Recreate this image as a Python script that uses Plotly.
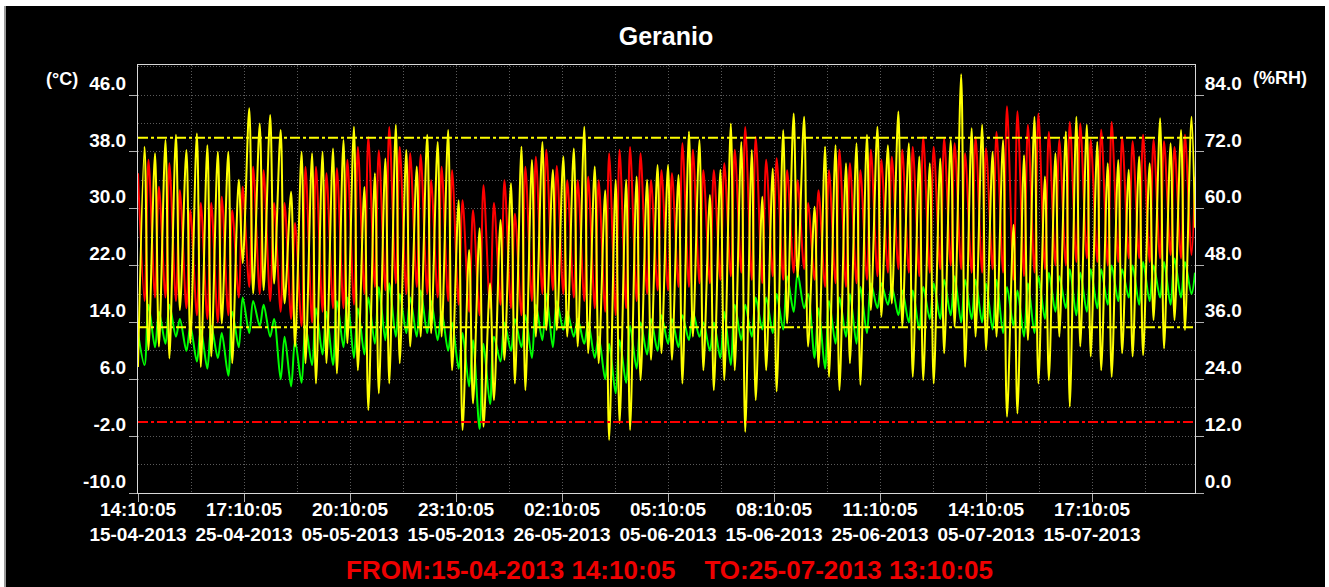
import plotly.graph_objects as go
from datetime import datetime, timedelta

# ---------------- data ----------------
START = "2013-04-15 14:10:05"
END = "2013-07-25 13:10:05"

TICK_TIMES = ["2013-04-15 14:10:05", "2013-04-25 17:10:05", "2013-05-05 20:10:05",
              "2013-05-15 23:10:05", "2013-05-26 02:10:05", "2013-06-05 05:10:05",
              "2013-06-15 08:10:05", "2013-06-25 11:10:05", "2013-07-05 14:10:05",
              "2013-07-15 17:10:05"]

TEMP_TICKS = [-10, -2, 6, 14, 22, 30, 38, 46]
TEMP_TICK_LABELS = ["-10.0", "-2.0", "6.0", "14.0", "22.0", "30.0", "38.0", "46.0"]
RH_TICKS = [0, 12, 24, 36, 48, 60, 72, 84]
RH_TICK_LABELS = ["0.0", "12.0", "24.0", "36.0", "48.0", "60.0", "72.0", "84.0"]

# daily afternoon maxima (day 0..100, then final sample) in degC
RED_MAX = [35.0, 36.9, 33.1, 36.4, 32.6, 29.8, 30.8, 30.8, 31.7, 29.8, 33.1, 35.9, 35.4, 30.8, 30.8, 28.0, 35.9, 35.9, 35.0, 35.7,
           36.9, 38.7, 40.1, 38.2, 41.5, 38.7, 37.8, 37.6, 34.0, 35.9, 35.4, 31.2, 29.8, 33.3, 30.8, 34.0, 29.3, 35.9, 37.3, 38.3,
           36.0, 34.0, 34.0, 34.5, 34.0, 37.8, 38.3, 38.7, 37.8, 34.0, 35.4, 35.0, 39.2, 38.3, 35.4, 35.4, 36.4, 38.3, 41.5, 40.1,
           36.9, 37.1, 35.4, 34.0, 30.8, 32.6, 35.4, 38.3, 36.4, 35.4, 38.3, 36.9, 37.3, 38.3, 38.7, 40.1, 38.7, 39.9, 39.2, 37.8,
           40.1, 38.5, 40.8, 44.4, 43.7, 41.8, 43.4, 40.8, 39.7, 42.2, 42.0, 39.7, 41.1, 42.2, 40.1, 39.5, 40.4, 39.7, 39.5, 38.7, 40.4,
           34.5]
# daily early-morning minima (day 0..100) in degC
RED_MIN = [17.0, 17.5, 17.5, 17.0, 16.0, 15.0, 14.5, 14.0, 15.0, 17.5, 19.0, 18.0, 17.0, 15.5, 14.5, 13.5, 14.0, 15.5, 16.0, 16.0,
           16.5, 18.0, 19.0, 18.5, 19.5, 18.0, 19.0, 18.0, 17.5, 17.0, 16.5, 15.5, 15.0, 16.0, 16.5, 16.0, 15.0, 17.0, 18.0, 18.5,
           18.0, 17.5, 17.0, 16.0, 15.5, 15.0, 16.0, 17.0, 18.0, 18.5, 18.5, 19.0, 19.0, 19.5, 19.5, 20.0, 20.5, 21.0, 20.0, 19.5,
           20.5, 20.0, 21.0, 21.5, 20.0, 19.0, 19.5, 19.0, 19.5, 20.0, 20.5, 21.0, 21.5, 21.0, 20.5, 21.0, 21.5, 22.0, 21.5, 21.0,
           21.0, 21.5, 21.0, 20.0, 20.5, 21.0, 21.5, 22.0, 22.0, 22.5, 23.0, 22.5, 22.0, 22.5, 23.0, 23.0, 22.5, 23.0, 23.5, 23.0, 23.5]

GREEN_MAX = [12.5, 16.5, 15.5, 16.5, 14.5, 13.5, 13.0, 13.5, 12.5, 15.5, 17.5, 17.0, 16.5, 14.5, 12.0, 11.5, 13.5, 16.0, 15.5, 17.0,
             17.5, 16.0, 17.5, 19.0, 19.5, 18.0, 17.5, 18.5, 17.0, 15.5, 14.0, 12.5, 11.5, 11.0, 12.0, 14.0, 14.5, 15.0, 16.5, 18.0,
             17.0, 15.5, 14.5, 14.0, 12.0, 11.0, 11.5, 13.5, 14.0, 14.5, 15.0, 14.5, 15.0, 15.5, 14.0, 14.0, 15.5, 16.5, 16.5, 17.5,
             17.5, 18.0, 20.5, 21.0, 18.0, 16.0, 17.0, 17.5, 18.0, 19.0, 19.5, 19.5, 19.0, 18.5, 18.5, 19.0, 19.5, 20.0, 20.5, 20.0,
             20.0, 19.5, 20.0, 19.0, 18.5, 19.5, 20.5, 21.0, 20.5, 21.5, 21.0, 21.5, 21.5, 22.0, 21.5, 22.0, 22.5, 22.0, 22.5, 23.0, 22.5,
             21.0]
GREEN_MIN = [8.0, 10.5, 11.0, 12.0, 10.0, 8.5, 7.5, 9.0, 6.5, 10.5, 12.5, 13.5, 12.0, 6.0, 5.0, 5.5, 8.0, 9.5, 8.0, 10.5,
             9.0, 9.5, 11.0, 11.5, 12.0, 12.5, 12.0, 12.5, 11.5, 10.0, 7.5, 5.0, -1.0, 2.5, 8.5, 10.0, 10.5, 9.0, 11.5, 10.5,
             13.0, 12.0, 11.0, 9.0, 6.0, 4.0, 5.5, 7.5, 9.5, 10.0, 11.0, 10.5, 11.5, 12.0, 10.0, 9.0, 8.0, 11.5, 12.0, 13.0,
             12.5, 13.0, 15.5, 16.0, 9.0, 7.5, 11.0, 12.0, 11.0, 12.5, 16.0, 16.5, 15.0, 14.0, 13.0, 14.5, 14.5, 15.0, 14.0, 14.5,
             14.0, 13.0, 12.5, 13.5, 12.0, 12.5, 14.5, 15.5, 16.0, 15.0, 15.5, 16.0, 16.5, 17.0, 17.5, 16.5, 17.0, 17.5, 16.5, 17.5, 18.0]

# relative humidity: afternoon minima (day 0..100 + final sample) and night maxima (day 0..100)
RH_MIN = [26.6, 30.2, 30.9, 28.4, 38.6, 31.6, 26.6, 28.8, 35.8, 27.4, 48.5, 42.1, 42.8, 44.2, 40.0, 30.9, 27.4, 23.1, 27.4, 25.2,
          31.6, 25.9, 17.5, 21.0, 23.1, 27.4, 30.9, 33.0, 33.7, 33.0, 25.9, 13.3, 18.9, 14.0, 19.6, 28.1, 23.1, 21.7, 33.0, 34.4,
          34.4, 33.0, 30.9, 29.5, 27.4, 11.2, 14.7, 13.3, 23.8, 28.1, 29.5, 28.1, 23.1, 33.0, 25.9, 21.7, 23.8, 25.9, 12.9, 19.6,
          25.9, 21.4, 35.8, 45.6, 30.9, 26.6, 24.5, 21.7, 27.4, 22.8, 38.6, 37.2, 40.0, 35.1, 24.5, 23.8, 23.1, 29.5, 35.1, 26.6,
          33.0, 30.2, 33.0, 16.1, 16.8, 32.3, 23.1, 23.8, 33.0, 18.2, 30.9, 28.8, 25.9, 24.5, 29.5, 28.8, 29.1, 36.5, 30.5, 36.5, 34.4,
          56.0]
RH_MAX = [73.1, 71.7, 74.5, 75.6, 72.4, 75.9, 73.4, 72.0, 72.0, 66.1, 81.2, 78.0, 79.8, 76.6, 63.6, 72.0, 71.7, 72.0, 72.7, 74.5,
          77.3, 64.6, 67.5, 70.6, 77.7, 72.4, 68.9, 75.6, 74.1, 76.6, 61.8, 51.3, 55.9, 44.2, 57.6, 65.4, 73.1, 70.3, 74.1, 68.2,
          71.0, 72.7, 77.3, 68.9, 63.9, 66.1, 66.1, 66.8, 66.1, 69.2, 69.2, 67.1, 76.3, 74.5, 62.9, 68.2, 78.0, 74.1, 72.4, 62.5,
          68.5, 76.6, 80.1, 79.4, 60.4, 73.1, 73.4, 69.6, 73.8, 75.6, 77.3, 73.4, 80.5, 73.8, 71.0, 69.6, 70.6, 74.5, 88.4, 77.0,
          77.7, 72.0, 74.5, 56.6, 71.3, 79.4, 66.8, 71.7, 76.3, 79.4, 77.7, 74.1, 69.6, 70.3, 68.2, 71.0, 69.6, 79.1, 73.8, 76.6, 79.4]

RH_ALARM_HIGH = 75.0
RH_ALARM_LOW = 35.0
TEMP_ALARM_LOW = 0.0

# ---------------- build time series ----------------
FMT = "%Y-%m-%d %H:%M:%S"
t0 = datetime.strptime(START, FMT)
t_end = datetime.strptime(END, FMT)
n_days = len(RED_MIN)

times = []
for k in range(n_days):
    times.append(t0 + timedelta(days=k))            # afternoon sample
    times.append(t0 + timedelta(days=k, hours=15))  # night sample
times.append(t_end)


def interleave(day_vals, night_vals):
    out = []
    for k in range(n_days):
        out.append(day_vals[k])
        out.append(night_vals[k])
    out.append(day_vals[n_days])
    return out


red = interleave(RED_MAX, RED_MIN)
green = interleave(GREEN_MAX, GREEN_MIN)
yellow = interleave(RH_MIN, RH_MAX)

tick_dt = [datetime.strptime(s, FMT) for s in TICK_TIMES]
tick_text = [d.strftime("%H:%M:%S") + "<br>" + d.strftime("%d-%m-%Y") for d in tick_dt]

FONT = "Liberation Sans, Arial, sans-serif"
GRID = "#5a5a5a"
YTICKFONT = dict(size=19, color="white", family=FONT, weight="bold")
XTICKFONT = dict(size=19, color="white", family=FONT, weight="bold")

fig = go.Figure()
fig.add_trace(go.Scatter(x=times, y=red, mode="lines",
                         line=dict(color="#ff0000", width=2, shape="spline", smoothing=0.9),
                         name="Temp", yaxis="y", showlegend=False))
fig.add_trace(go.Scatter(x=times, y=green, mode="lines",
                         line=dict(color="#00ff00", width=2, shape="spline", smoothing=0.9),
                         name="Temp2", yaxis="y", showlegend=False))
fig.add_trace(go.Scatter(x=times, y=yellow, mode="lines",
                         line=dict(color="#ffff00", width=2, shape="spline", smoothing=0.9),
                         name="RH", yaxis="y2", showlegend=False))

# alarm lines
for yv, col, ref in [(RH_ALARM_HIGH, "#ffff00", "y2"), (RH_ALARM_LOW, "#ffff00", "y2"),
                     (TEMP_ALARM_LOW, "#ff0000", "y")]:
    fig.add_shape(type="line", xref="paper", x0=0, x1=1, yref=ref, y0=yv, y1=yv,
                  line=dict(color=col, width=2, dash="10px,3px,3px,3px"), layer="above")

# thin framing strips of the original screenshot
W, H = 1329, 587
L, R, T, B = 138, 1195, 65, 493
pw, ph = R - L, B - T
def px(x):
    return (x - L) / pw
def py(y):
    return (B - y) / ph
for (x0, x1, y0, y1, c) in [(0, W, 0, 6, "white"), (1325, W, 0, H, "white"),
                            (0, 4, 0, H, "white"), (4, 6, 6, H, "#9a9a9a")]:
    fig.add_shape(type="rect", xref="paper", yref="paper", x0=px(x0), x1=px(x1),
                  y0=py(y1), y1=py(y0), fillcolor=c, line=dict(width=0), layer="above")

ymin, ymax = -10, 46 + (95 - T) / (398 / 56)
fig.update_layout(
    width=W, height=H,
    paper_bgcolor="black", plot_bgcolor="black",
    margin=dict(l=L, r=W - R, t=T, b=H - B, autoexpand=False),
    font=dict(family=FONT, color="white"),
    title=dict(text="<b>Geranio</b>", x=666 / W, xanchor="center", y=1 - 36 / H, yanchor="middle",
               yref="container", xref="container", font=dict(size=25, color="white", family=FONT)),
    xaxis=dict(type="date", range=[t0, t_end], tickmode="array", tickvals=tick_dt, ticktext=tick_text,
               tickfont=XTICKFONT, ticks="outside", ticklen=8, ticklabelstandoff=-9,
               tickcolor="#b0b0b0", showgrid=True, gridcolor=GRID, griddash="1px,2px", gridwidth=1,
               minor=dict(tick0=t0, dtick=121.5 * 3600 * 1000, showgrid=True, gridcolor=GRID,
                          griddash="1px,2px", ticks=""),
               showline=True, linecolor="#d8d8d8", linewidth=1, mirror=True, zeroline=False),
    yaxis=dict(range=[ymin, ymax], tickmode="array", tickvals=TEMP_TICKS, ticktext=TEMP_TICK_LABELS,
               tickfont=YTICKFONT, ticks="outside", ticklen=8,
               tickcolor="#b0b0b0", ticklabelshift=-12, ticklabelstandoff=-1,
               showgrid=True, gridcolor=GRID, griddash="1px,2px",
               minor=dict(tick0=-10, dtick=4, showgrid=True, gridcolor=GRID, griddash="1px,2px", ticks=""),
               showline=True, linecolor="#d8d8d8", linewidth=1, mirror=True, zeroline=False),
    yaxis2=dict(range=[(ymin + 10) * 1.5, (ymax + 10) * 1.5], overlaying="y", side="right",
                tickmode="array", tickvals=RH_TICKS, ticktext=RH_TICK_LABELS,
                tickfont=YTICKFONT, ticks="outside", ticklen=8,
                tickcolor="#b0b0b0", ticklabelshift=-12, ticklabelstandoff=-3,
                showgrid=False, zeroline=False, showline=False),
    annotations=[
        dict(text="<b>(°C)</b>", xref="paper", yref="paper", x=px(62), y=py(79), showarrow=False,
             xanchor="center", yanchor="middle", font=dict(size=18, color="white", family=FONT)),
        dict(text="<b>(%RH)</b>", xref="paper", yref="paper", x=px(1280), y=py(78), showarrow=False,
             xanchor="center", yanchor="middle", font=dict(size=18, color="white", family=FONT)),
        dict(text="<b>FROM:" + t0.strftime("%d-%m-%Y %H:%M:%S") + "&nbsp;&nbsp;&nbsp;&nbsp;TO:" +
             t_end.strftime("%d-%m-%Y %H:%M:%S") + "</b>",
             xref="paper", yref="paper", x=px(669), y=py(570), showarrow=False,
             xanchor="center", yanchor="middle", font=dict(size=26, color="#ee0000", family=FONT)),
    ],
)

fig.write_html("out.html", config={"displayModeBar": False},
               post_script="document.body.style.margin='0px';")
